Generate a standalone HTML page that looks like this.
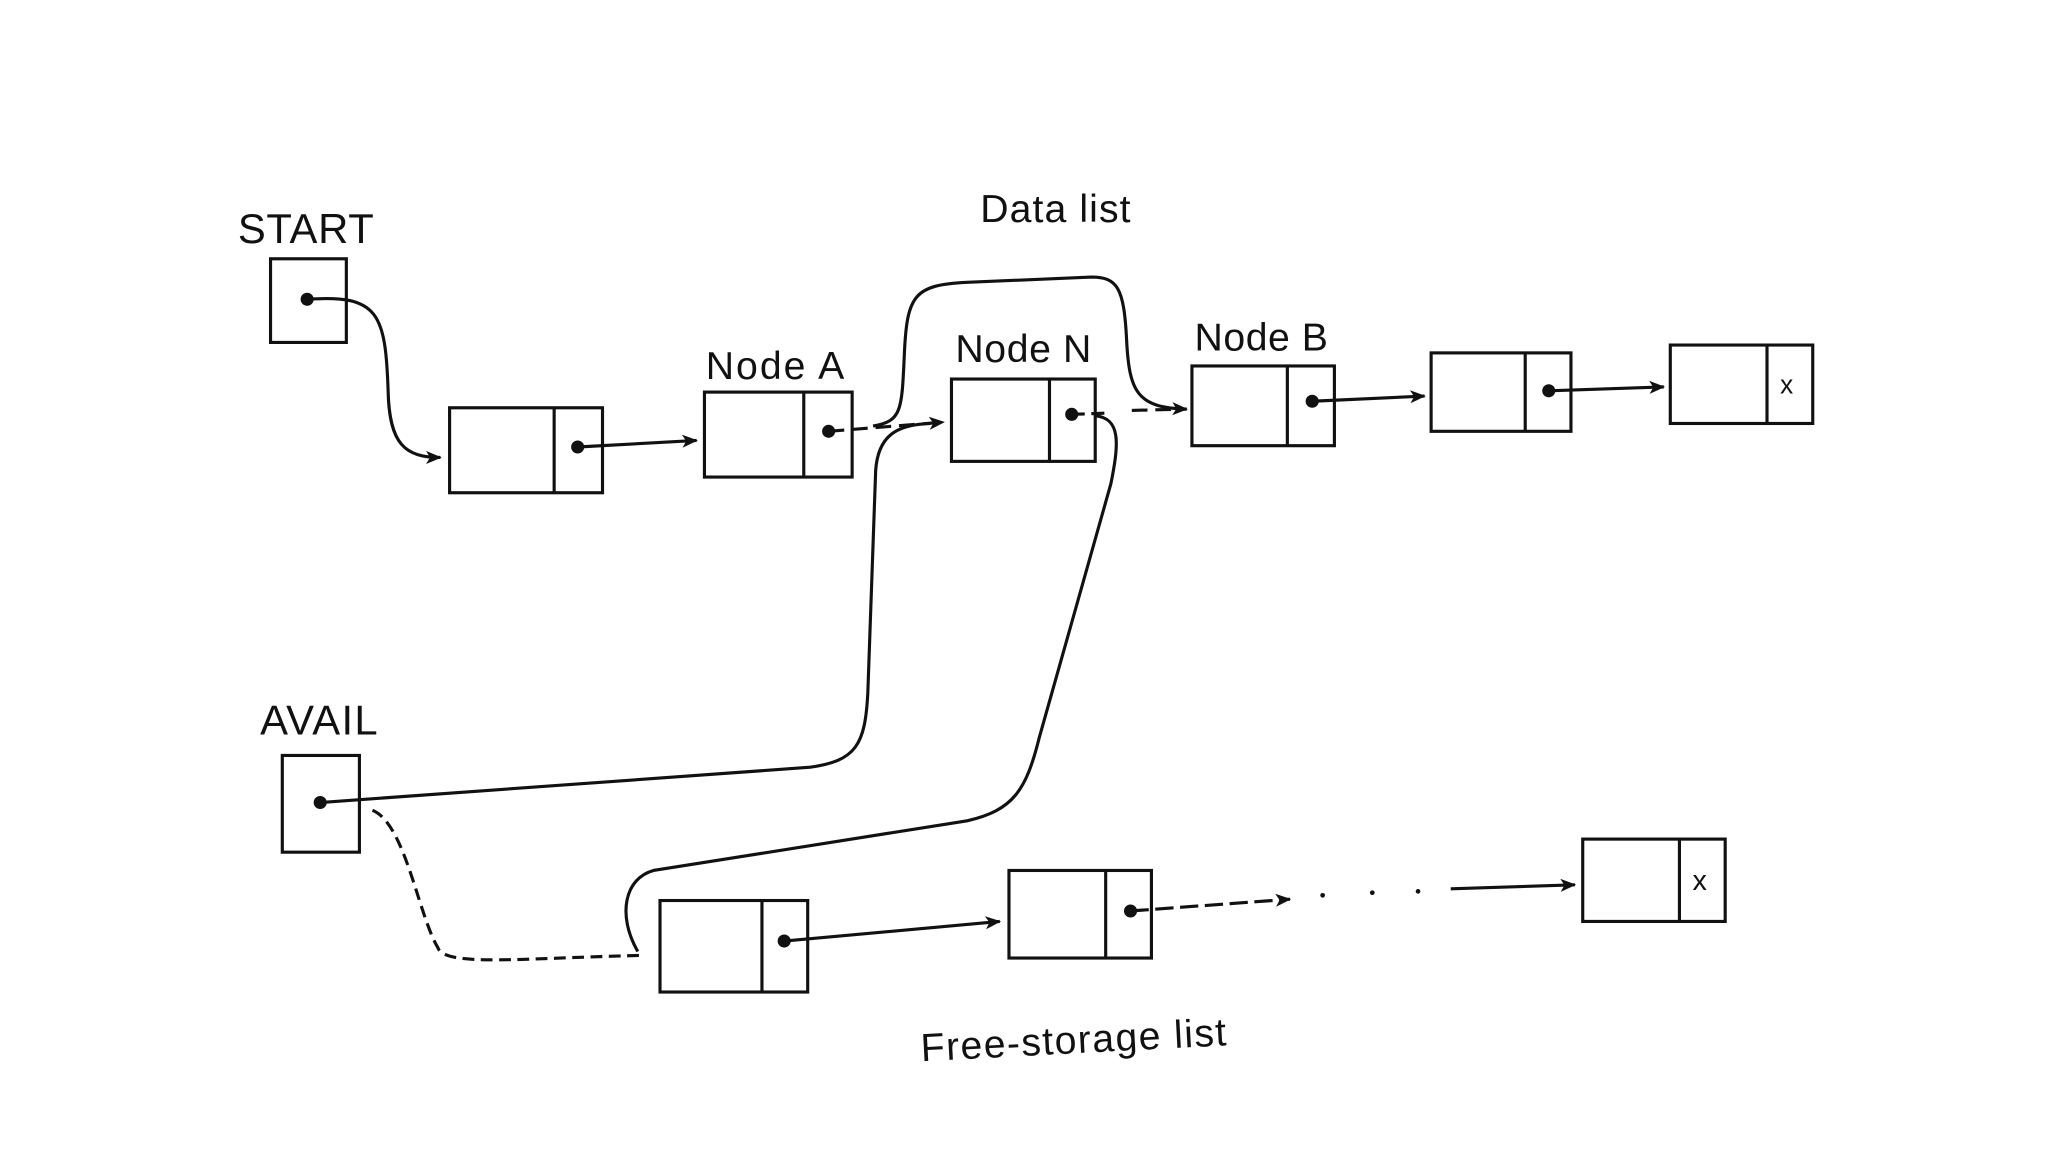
<!DOCTYPE html>
<html><head><style>
html,body{margin:0;padding:0;background:#fff;}
svg{display:block}
text{font-family:"Liberation Sans",Arial,sans-serif;fill:#111;}
</style></head><body>
<svg width="2048" height="1152" viewBox="0 0 1567 881.4" preserveAspectRatio="none" xmlns="http://www.w3.org/2000/svg">
<defs>
<marker id="a" markerWidth="12" markerHeight="10" refX="11" refY="5" orient="auto" markerUnits="userSpaceOnUse">
<path d="M0,0 L12,5 L0,10 L3,5 Z" fill="#111"/></marker>
</defs>
<g fill="none" stroke="#111" stroke-width="2.4">
<rect x="207" y="198" width="58" height="64"/>
<rect x="344" y="312" width="117" height="65"/><line x1="424" y1="312" x2="424" y2="377"/>
<rect x="539" y="300" width="113" height="65"/><line x1="615" y1="300" x2="615" y2="365"/>
<rect x="728" y="290" width="110" height="63"/><line x1="803" y1="290" x2="803" y2="353"/>
<rect x="912" y="280" width="109" height="61"/><line x1="985" y1="280" x2="985" y2="341"/>
<rect x="1095" y="270" width="107" height="60"/><line x1="1167" y1="270" x2="1167" y2="330"/>
<rect x="1278" y="264" width="109" height="60"/><line x1="1352" y1="264" x2="1352" y2="324"/>
<rect x="216" y="578" width="59" height="74"/>
<rect x="505" y="689" width="113" height="70"/><line x1="583" y1="689" x2="583" y2="759"/>
<rect x="772" y="666" width="109" height="67"/><line x1="846" y1="666" x2="846" y2="733"/>
<rect x="1211" y="642" width="109" height="63"/><line x1="1285" y1="642" x2="1285" y2="705"/>
<path d="M235,229 C290,225 295,240 297,300 C298,340 310,350 337,350" marker-end="url(#a)"/>
<path d="M442,342 L533,337" marker-end="url(#a)"/>
<path d="M634,330 L722,323" stroke-dasharray="12,6" marker-end="url(#a)"/>
<path d="M668,326 C690,322 690,315 692,270 C694,225 700,218 740,216 L835,212 C855,212 860,220 862,260 C864,300 870,312 908,313" marker-end="url(#a)"/>
<path d="M866,314 L908,313" stroke-dasharray="12,6"/>
<path d="M820,317 L850,316" stroke-dasharray="10,5"/>
<path d="M838,318 C858,320 856,340 850,370 L795,565 C785,605 775,620 740,628 L500,666 C478,672 472,700 488,728"/>
<path d="M245,614 L620,587 C655,582 662,570 664,530 L670,360 C672,330 690,325 712,324"/>
<path d="M285,620 C310,630 320,700 335,725 C340,740 400,733 490,731" stroke-dasharray="9,5"/>
<path d="M600,720 L765,705" marker-end="url(#a)"/>
<path d="M865,697 L987,688" stroke-dasharray="14,5" marker-end="url(#a)"/>
<path d="M1110,680 L1205,677" marker-end="url(#a)"/>
<path d="M1004,307 L1090,303" marker-end="url(#a)"/>
<path d="M1185,299 L1273,296" marker-end="url(#a)"/>
</g>
<g fill="#111">
<circle cx="235" cy="229" r="5"/><circle cx="442" cy="342" r="5"/><circle cx="634" cy="330" r="5"/>
<circle cx="820" cy="317" r="5"/><circle cx="1004" cy="307" r="5"/><circle cx="1185" cy="299" r="5"/>
<circle cx="245" cy="614" r="5"/><circle cx="600" cy="720" r="5"/><circle cx="865" cy="697" r="5"/>
<circle cx="1012" cy="685" r="1.8"/><circle cx="1050" cy="683" r="1.8"/><circle cx="1085" cy="682" r="1.8"/>
</g>
<text x="182" y="186" font-size="32" textLength="104">START</text>
<text x="750" y="170" font-size="30" textLength="115">Data list</text>
<text x="540" y="290" font-size="30" textLength="106">Node A</text>
<text x="731" y="277" font-size="30" textLength="104">Node N</text>
<text x="914" y="268" font-size="30" textLength="102">Node B</text>
<text x="199" y="562" font-size="32" textLength="90">AVAIL</text>
<text x="1362" y="301" font-size="20">x</text>
<text x="1295" y="681" font-size="22">x</text>
<text x="705" y="812" font-size="30" textLength="234" transform="rotate(-3 705 812)">Free-storage list</text>
</svg>
</body></html>
